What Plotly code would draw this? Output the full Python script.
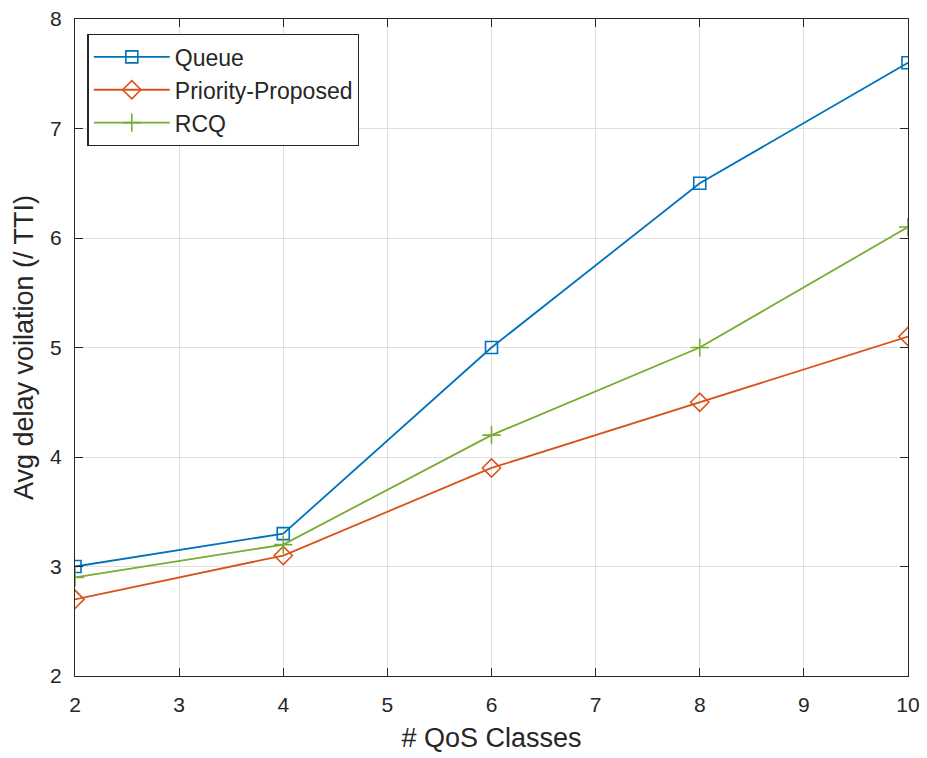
import plotly.graph_objects as go

x_classes = [2, 4, 6, 8, 10]
queue = [3.0, 3.3, 5.0, 6.5, 7.6]
priority = [2.7, 3.1, 3.9, 4.5, 5.1]
rcq = [2.9, 3.2, 4.2, 5.0, 6.1]

x_ticks = [2, 3, 4, 5, 6, 7, 8, 9, 10]
y_ticks = [2, 3, 4, 5, 6, 7, 8]

FONT = "Liberation Sans, Arial"
TXT = "#262626"

fig = go.Figure()
fig.add_trace(go.Scatter(x=x_classes, y=queue, mode="lines+markers", name="Queue",
                         line=dict(color="#0072BD", width=1.8),
                         marker=dict(symbol="square-open", size=12, color="#0072BD", line=dict(width=1.6))))
fig.add_trace(go.Scatter(x=x_classes, y=priority, mode="lines+markers", name="Priority-Proposed",
                         line=dict(color="#D95319", width=1.8),
                         marker=dict(symbol="diamond-open", size=14, color="#D95319", line=dict(width=1.6))))
fig.add_trace(go.Scatter(x=x_classes, y=rcq, mode="lines+markers", name="RCQ",
                         line=dict(color="#77AC30", width=1.8),
                         marker=dict(symbol="cross-thin-open", size=13, color="#77AC30", line=dict(width=1.6, color="#77AC30"))))

axis_common = dict(showline=True, linecolor=TXT, linewidth=1.3, mirror="ticks",
                   ticks="inside", ticklen=8, tickcolor=TXT, automargin=False,
                   showgrid=True, gridcolor="#E0E0E0", gridwidth=1, zeroline=False,
                   tickfont=dict(family=FONT, size=21, color=TXT))

fig.update_xaxes(range=[2, 10], tickvals=x_ticks, ticklabelstandoff=10,
                 title=dict(text="# QoS Classes", font=dict(family=FONT, size=27, color=TXT), standoff=12),
                 **axis_common)
fig.update_yaxes(range=[2, 8], tickvals=y_ticks, ticklabelstandoff=8,
                 title=dict(text="Avg delay voilation (/ TTI)", font=dict(family=FONT, size=27, color=TXT), standoff=8),
                 **axis_common)

fig.update_layout(
    width=927, height=758,
    margin=dict(l=75, r=19, t=19, b=82),
    paper_bgcolor="white", plot_bgcolor="white",
    showlegend=True,
    legend=dict(x=0.015, y=0.977, xanchor="left", yanchor="top",
                bgcolor="white", bordercolor=TXT, borderwidth=1.3,
                font=dict(family=FONT, size=23, color=TXT),
                itemwidth=76, tracegroupgap=0),
)

fig.write_html("out.html")
